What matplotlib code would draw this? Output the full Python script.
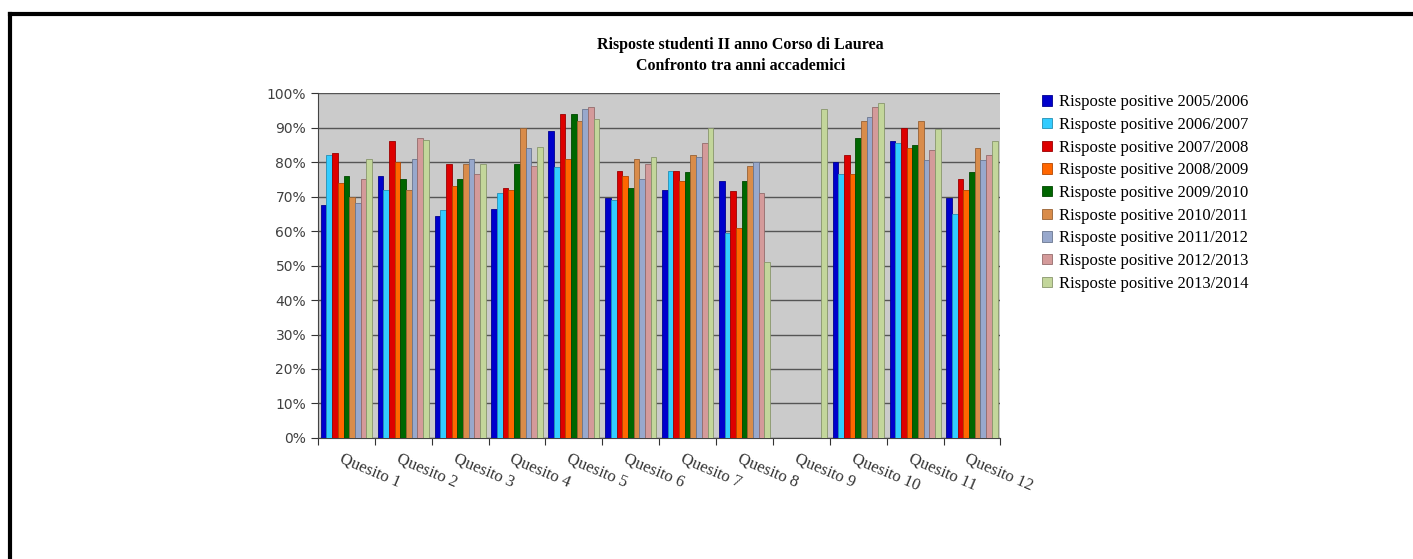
import numpy as np
import matplotlib
matplotlib.use("Agg")
import matplotlib.pyplot as plt
from matplotlib.colors import to_rgb

# ---------------- data ----------------
questions = ["Quesito %d" % i for i in range(1, 13)]
years = ["2005/2006", "2006/2007", "2007/2008", "2008/2009", "2009/2010",
         "2010/2011", "2011/2012", "2012/2013", "2013/2014"]

y0506 = [67.5, 76.0, 64.5, 66.5, 89.0, 69.5, 72.0, 74.5, 0.0, 80.0, 86.0, 69.5]
y0607 = [82.0, 72.0, 66.0, 71.0, 78.5, 69.0, 77.5, 59.5, 0.0, 76.5, 85.5, 65.0]
y0708 = [82.5, 86.0, 79.5, 72.5, 94.0, 77.5, 77.5, 71.5, 0.0, 82.0, 90.0, 75.0]
y0809 = [74.0, 80.0, 73.0, 72.0, 81.0, 76.0, 74.5, 61.0, 0.0, 76.5, 84.0, 72.0]
y0910 = [76.0, 75.0, 75.0, 79.5, 94.0, 72.5, 77.0, 74.5, 0.0, 87.0, 85.0, 77.0]
y1011 = [70.0, 72.0, 79.5, 90.0, 92.0, 81.0, 82.0, 79.0, 0.0, 92.0, 92.0, 84.0]
y1112 = [68.0, 81.0, 81.0, 84.0, 95.5, 75.0, 81.5, 80.0, 0.0, 93.0, 80.5, 80.5]
y1213 = [75.0, 87.0, 76.5, 79.0, 96.0, 79.5, 85.5, 71.0, 0.0, 96.0, 83.5, 82.0]
y1314 = [81.0, 86.5, 79.5, 84.5, 92.5, 81.5, 90.0, 51.0, 95.5, 97.0, 89.5, 86.0]

series = [y0506, y0607, y0708, y0809, y0910, y1011, y1112, y1213, y1314]
colors = ["#0000cc", "#33ccff", "#dd0000", "#ff6600", "#006600",
          "#d98c4a", "#98a8cc", "#d49a9a", "#c3d69b"]

# ---------------- figure ----------------
fig = plt.figure(figsize=(14.13, 5.59), dpi=100)
ax = fig.add_axes([0.225, 0.2165, 0.483, 0.617])
ax.set_facecolor("#cbcbcb")

x = np.arange(len(questions))
w = 0.1
for i, (vals, col) in enumerate(zip(series, colors)):
    edge = tuple(c * 0.7 for c in to_rgb(col))
    ax.bar(x - 0.4 + i * w, vals, width=w, color=col, edgecolor=edge,
           linewidth=0.6, label="Risposte positive " + years[i], zorder=3)

ax.set_xlim(-0.5, len(questions) - 0.5)
ax.set_ylim(0, 100)
ax.set_yticks(np.arange(0, 101, 10))
ax.set_yticklabels(["%d%%" % v for v in range(0, 101, 10)],
                   fontsize=10, color="#404040", family="DejaVu Sans")
ax.yaxis.grid(True, color="#555555", linewidth=1.0, zorder=0)
ax.set_axisbelow(True)

# tick marks at group boundaries, labels drawn separately
ax.set_xticks(np.arange(-0.5, len(questions)), minor=False)
ax.set_xticklabels([])
ax.tick_params(axis="x", direction="out", length=5, color="#333333")
ax.tick_params(axis="y", direction="out", length=5, color="#333333")
for i, q in enumerate(questions):
    ax.text(i - 0.05, -3.8, q, rotation=-23, rotation_mode="anchor",
            ha="left", va="top", fontsize=12, family="Liberation Serif",
            color="#333333", transform=ax.transData, clip_on=False)

for s in ["top", "right"]:
    ax.spines[s].set_visible(False)
ax.spines["left"].set_color("#444444")
ax.spines["bottom"].set_color("#444444")

fig.text(0.524, 0.901, "Risposte studenti II anno Corso di Laurea\nConfronto tra anni accademici",
         ha="center", va="center", fontsize=11.5, fontweight="bold",
         family="Liberation Serif", linespacing=1.45)

fig.legend(loc="upper left", bbox_to_anchor=(0.727, 0.858), frameon=False,
           prop={"family": "Liberation Serif", "size": 12},
           handlelength=0.6, handleheight=0.6, handletextpad=0.4,
           labelspacing=0.4)

# outer frame: top and left lines
fig.add_artist(plt.Line2D([0.0072, 1.0], [0.975, 0.975], color="black", lw=3,
                          transform=fig.transFigure))
fig.add_artist(plt.Line2D([0.0072, 0.0072], [0.0, 0.975], color="black", lw=3,
                          transform=fig.transFigure))

fig.savefig("out.png", dpi=100)
